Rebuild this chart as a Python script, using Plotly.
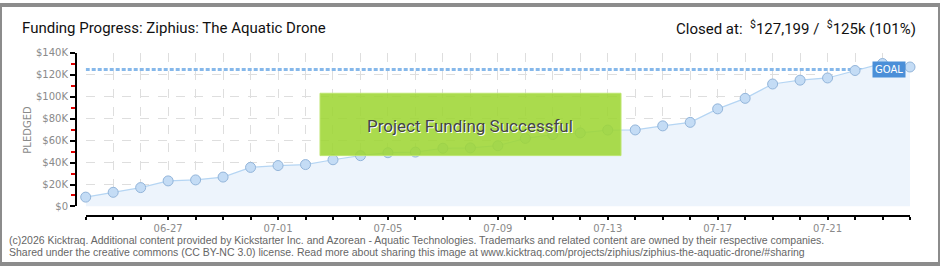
import plotly.graph_objects as go

# ---- data ----
dates = ["2014-06-24", "2014-06-25", "2014-06-26", "2014-06-27", "2014-06-28", "2014-06-29",
         "2014-06-30", "2014-07-01", "2014-07-02", "2014-07-03", "2014-07-04", "2014-07-05",
         "2014-07-06", "2014-07-07", "2014-07-08", "2014-07-09", "2014-07-10", "2014-07-11",
         "2014-07-12", "2014-07-13", "2014-07-14", "2014-07-15", "2014-07-16", "2014-07-17",
         "2014-07-18", "2014-07-19", "2014-07-20", "2014-07-21", "2014-07-22", "2014-07-23",
         "2014-07-24"]
pledged = [8500, 12900, 17200, 23300, 24200, 26800, 35600, 37300, 38200, 42600, 46300, 49000,
           49600, 53100, 53400, 55400, 62100, 65600, 67100, 69700, 69800, 73500, 76700, 89000,
           98600, 111700, 115200, 117200, 124000, 130400, 127199]
goal = 125000
y_tickvals = [0, 20000, 40000, 60000, 80000, 100000, 120000, 140000]
y_ticktext = ["$0", "$20K", "$40K", "$60K", "$80K", "$100K", "$120K", "$140K"]
y_minor_tickvals = [10000, 30000, 50000, 70000, 90000, 110000, 130000]

W, H = 940, 270
TITLE_FONT = "Roboto, sans-serif"

fig = go.Figure()

# goal line
fig.add_trace(go.Scatter(
    x=[dates[0], dates[-1]], y=[goal, goal], mode="lines",
    line=dict(color="#86b8ea", width=3, dash="4px,2px"),
    hoverinfo="skip", showlegend=False, cliponaxis=False))

# pledged series
fig.add_trace(go.Scatter(
    x=dates, y=pledged, mode="lines+markers", fill="tozeroy",
    fillcolor="#edf4fc",
    line=dict(color="#b5d5f3", width=1.2),
    marker=dict(size=10, color="#c4dcf5", line=dict(color="#93b5da", width=1)),
    showlegend=False, cliponaxis=False))

px0, px1 = 85.7 / W, 910 / W
py0, py1 = 1 - 210 / H, 1 - 50 / H

fig.update_layout(
    width=W, height=H,
    margin=dict(l=0, r=0, t=0, b=0),
    paper_bgcolor="white", plot_bgcolor="white",
    xaxis=dict(
        type="date", domain=[px0, px1], range=[dates[0], dates[-1]],
        anchor="free", position=1 - 220 / H,
        tick0="2014-06-27", dtick=4 * 86400000, tickformat="%m-%d",
        showline=True, linecolor="black", linewidth=2,
        ticks="outside", ticklen=3, tickwidth=1.5, tickcolor="black",
        tickfont=dict(family="DejaVu Sans", size=10, color="#8a8a8a"),
        showgrid=True, gridcolor="#dedede", griddash="dash", gridwidth=1,
        zeroline=False,
        minor=dict(dtick=86400000, tick0=dates[0], ticks="outside", ticklen=3,
                   tickcolor="black", tickwidth=1.5,
                   showgrid=True, gridcolor="#dedede", griddash="dash", gridwidth=1),
    ),
    yaxis=dict(
        domain=[py0, py1], range=[0, 140000],
        anchor="free", position=76 / W,
        tickvals=y_tickvals, ticktext=y_ticktext,
        showline=True, linecolor="black", linewidth=2,
        ticks="outside", ticklen=5, tickwidth=1.5, tickcolor="black",
        tickfont=dict(family="DejaVu Sans", size=10, color="#8a8a8a"),
        showgrid=True, gridcolor="#dedede", griddash="dash", gridwidth=1,
        zeroline=False,
        minor=dict(tickvals=y_minor_tickvals, ticks="outside", ticklen=4,
                   tickcolor="#e00000", tickwidth=1.5, showgrid=False),
    ),
    showlegend=False,
)

annotations = [
    dict(text="Funding Progress: Ziphius: The Aquatic Drone", x=20 / W, y=1 - 24 / H,
         xref="paper", yref="paper", xanchor="left", yanchor="middle", showarrow=False,
         font=dict(family=TITLE_FONT, size=15, color="#111")),
    dict(text="Closed at:  <sup>$</sup>127,199 /  <sup>$</sup>125k (101%)", x=918 / W, y=1 - 24 / H,
         xref="paper", yref="paper", xanchor="right", yanchor="middle", showarrow=False,
         font=dict(family=TITLE_FONT, size=15, color="#111")),
    dict(text="PLEDGED", x=28 / W, y=1 - 130 / H, xref="paper", yref="paper",
         textangle=-90, showarrow=False, xanchor="center", yanchor="middle",
         font=dict(family="DejaVu Sans", size=10, color="#8a8a8a")),
    dict(text="GOAL", x=dates[-2], y=goal, xref="x", yref="y", xshift=6,
         showarrow=False, bgcolor="#4b8fd8", borderpad=2,
         font=dict(family="DejaVu Sans", size=10, color="white")),
    dict(text="Project Funding Successful", x=470 / W, y=1 - 126 / H, xref="paper", yref="paper",
         showarrow=False, xanchor="center", yanchor="middle",
         font=dict(family=TITLE_FONT, size=17, color="#444",
                   shadow="1px 1px 0px white")),
    dict(text="(c)2026 Kicktraq. Additional content provided by Kickstarter Inc. and Azorean - Aquatic Technologies. "
              "Trademarks and related content are owned by their respective companies.",
         x=7 / W, y=1 - 245 / H, xref="paper", yref="paper", xanchor="left", yanchor="middle",
         showarrow=False, font=dict(family="Liberation Sans", size=10.5, color="#666")),
    dict(text="Shared under the creative commons (CC BY-NC 3.0) license. Read more about sharing this image at "
              "www.kicktraq.com/projects/ziphius/ziphius-the-aquatic-drone/#sharing",
         x=7 / W, y=1 - 258 / H, xref="paper", yref="paper", xanchor="left", yanchor="middle",
         showarrow=False, font=dict(family="Liberation Sans", size=10.5, color="#666")),
]
fig.update_layout(annotations=annotations)

shapes = [
    # success banner
    dict(type="rect", xref="paper", yref="paper", x0=320 / W, x1=621 / W,
         y0=1 - 157 / H, y1=1 - 92 / H, fillcolor="rgba(158,214,52,0.88)",
         line=dict(color="#bde56f", width=1), layer="above"),
    # outer frame
    dict(type="rect", xref="paper", yref="paper", x0=0, x1=1, y0=0, y1=1,
         line=dict(color="#8c8c8c", width=4), fillcolor="rgba(0,0,0,0)", layer="above"),
]
fig.update_layout(shapes=shapes)

fig.write_html("out.html")
